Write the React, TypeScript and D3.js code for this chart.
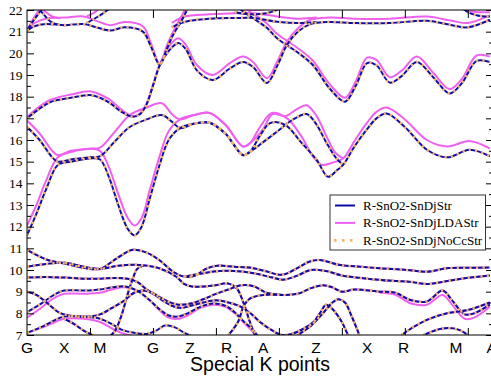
import React, { useEffect, useRef } from 'react';
import * as d3 from 'd3';

type Pt = [number, number];

// special k points along the path
const kLabels = ['G', 'X', 'M', 'G', 'Z', 'R', 'A', 'Z', 'X', 'R', 'M', 'A'];
const kPositions = [0, 0.59, 1.16, 2.0, 2.59, 3.17, 3.75, 4.59, 5.4, 5.98, 6.81, 7.38];

const seriesNames = ['R-SnO2-SnDjStr', 'R-SnO2-SnDjLDAStr', 'R-SnO2-SnDjNoCcStr'];

// ---- R-SnO2-SnDjStr (upper bands)
const strC1: Pt[] = [[0, 11.6], [0.15, 12.6], [0.3, 13.7], [0.49, 14.85], [0.7, 15.0], [1.0, 15.15], [1.16, 15.1], [1.3, 14.3], [1.45, 13.0], [1.6, 11.9], [1.71, 11.6], [1.82, 12.0], [1.95, 13.3], [2.1, 14.8], [2.25, 16.0], [2.43, 16.55], [2.65, 16.75], [2.9, 16.8], [3.15, 16.3], [3.43, 15.3], [3.54, 15.45], [3.7, 16.2], [3.86, 16.78], [4.1, 16.7], [4.35, 15.9], [4.6, 15.08], [4.78, 14.3], [4.92, 14.6], [5.02, 14.85], [5.2, 15.7], [5.4, 16.5], [5.55, 17.0], [5.71, 17.22], [6.0, 16.6], [6.35, 15.55], [6.67, 15.2], [7.03, 15.55], [7.35, 15.25]];
const strC2: Pt[] = [[0, 16.6], [0.2, 16.0], [0.4, 15.2], [0.49, 15.0], [0.7, 15.1], [1.0, 15.2], [1.16, 15.25], [1.4, 15.95], [1.63, 16.6], [1.9, 16.95], [2.14, 17.15], [2.3, 16.85], [2.43, 16.55], [2.65, 16.75], [2.9, 16.8], [3.15, 16.3], [3.43, 15.3], [3.54, 15.45], [3.75, 15.9], [4.0, 16.45], [4.2, 16.9], [4.44, 17.2], [4.6, 16.7], [4.75, 15.9], [4.9, 15.2], [5.02, 14.85]];
const strP: Pt[] = [[0, 17.0], [0.2, 17.45], [0.37, 17.75], [0.7, 17.95], [1.0, 18.08], [1.16, 17.95], [1.32, 17.7], [1.5, 17.3], [1.68, 17.07], [1.8, 17.2], [1.9, 17.65], [2.0, 18.5], [2.11, 19.46], [2.25, 20.1], [2.4, 20.48], [2.52, 20.2], [2.7, 19.2], [2.95, 18.77], [3.22, 19.3], [3.43, 19.6], [3.59, 19.37], [3.81, 18.63], [3.97, 19.4], [4.13, 20.4], [4.3, 21.0], [4.5, 21.35], [4.8, 21.45], [5.2, 21.4], [5.76, 21.4], [6.35, 21.5], [6.75, 21.3], [7.0, 21.2], [7.35, 21.55]];
const strQ: Pt[] = [[0, 21.05], [0.12, 21.25], [0.3, 21.35], [0.6, 21.3], [0.9, 21.35], [1.1, 21.2], [1.32, 21.05], [1.55, 21.2], [1.84, 21.0], [1.97, 20.3], [2.11, 19.46], [2.22, 20.2], [2.32, 20.85], [2.46, 21.54], [2.54, 22.0], [2.6, 22.4]];
const strR: Pt[] = [[3.27, 22.3], [3.45, 21.9], [3.6, 21.6], [3.8, 21.2], [3.97, 20.7], [4.29, 20.06], [4.54, 19.46], [4.8, 18.4], [5.05, 17.77], [5.22, 18.5], [5.4, 19.55], [5.55, 19.45], [5.76, 18.65], [5.95, 18.95], [6.19, 19.6], [6.45, 18.9], [6.71, 18.15], [6.9, 18.6], [7.14, 19.65], [7.35, 19.6]];
const strS: Pt[] = [[2.3, 21.2], [2.5, 21.45], [2.9, 21.6], [3.3, 21.63], [3.6, 21.63], [3.97, 21.46], [4.3, 21.4], [4.6, 21.45]];
const strW: Pt[] = [[0, 21.05], [0.1, 21.5], [0.2, 21.9], [0.28, 22.3]];
const strW2: Pt[] = [[0.12, 22.3], [0.25, 21.85], [0.38, 21.45], [0.5, 21.32]];
const strQ2: Pt[] = [[0.95, 21.4], [1.13, 21.7], [1.3, 22.05], [1.38, 22.3]];
const strTop: Pt[] = [[6.85, 22.3], [7.0, 21.9], [7.15, 21.75], [7.35, 21.7]];
const strTop2: Pt[] = [[3.3, 21.9], [3.55, 21.8], [3.8, 21.85], [4.0, 22.05], [4.1, 22.3]];

// ---- R-SnO2-SnDjStr (lower bands)
const strL1: Pt[] = [[0, 10.93], [0.33, 10.46], [0.63, 10.28], [0.9, 10.1], [1.16, 10.05], [1.43, 10.55], [1.68, 10.93], [1.9, 10.8], [2.1, 10.46], [2.32, 9.92], [2.5, 9.69], [2.65, 9.72], [2.86, 10.08], [3.02, 10.2], [3.29, 10.15], [3.56, 10.1], [3.78, 9.95], [4.06, 9.78], [4.3, 10.1], [4.49, 10.39], [4.65, 10.46], [4.97, 10.23], [5.3, 10.15], [5.6, 10.08], [6.03, 10.0], [6.35, 9.92], [6.67, 10.08], [7.0, 10.1], [7.35, 10.12]];
const strL2: Pt[] = [[0, 10.15], [0.3, 10.28], [0.6, 10.33], [0.9, 10.15], [1.16, 10.05], [1.45, 10.2], [1.79, 10.23], [2.1, 10.08], [2.37, 9.69], [2.5, 9.35], [2.64, 9.23], [2.85, 9.25], [3.02, 9.31], [3.17, 9.39], [3.33, 9.16], [3.43, 8.54], [3.54, 7.6], [3.62, 7.0], [3.7, 6.6]];
const strL2b: Pt[] = [[2.5, 9.69], [2.8, 9.85], [3.05, 9.95], [3.3, 9.95], [3.6, 9.85], [3.9, 9.65], [4.06, 9.55], [4.3, 9.75], [4.5, 10.0], [4.75, 9.95], [5.0, 9.75], [5.4, 9.6], [5.8, 9.5], [6.1, 9.45], [6.35, 9.35], [6.6, 9.45], [6.9, 9.6], [7.35, 9.75]];
const strL3: Pt[] = [[0, 9.65], [0.3, 9.68], [0.6, 9.65], [0.9, 9.6], [1.16, 9.6], [1.4, 9.63], [1.6, 9.6], [1.75, 9.45], [1.9, 9.1], [2.05, 8.85], [2.2, 8.6], [2.4, 8.4], [2.6, 8.45], [2.8, 8.65], [3.0, 8.9], [3.2, 9.1], [3.4, 9.3], [3.6, 9.25], [3.8, 8.95], [4.06, 8.85], [4.3, 8.9], [4.5, 9.15], [4.7, 9.3], [4.85, 9.2], [5.0, 9.0], [5.2, 9.1], [5.6, 9.0], [5.85, 8.95], [6.1, 8.6], [6.35, 8.55], [6.6, 9.05], [6.75, 8.6], [6.95, 7.95], [7.1, 8.0], [7.35, 8.4]];
const strL4: Pt[] = [[0, 9.0], [0.15, 8.85], [0.35, 8.4], [0.5, 8.05], [0.59, 7.95], [0.8, 7.85], [1.0, 7.85], [1.16, 7.95], [1.35, 8.25], [1.55, 8.6], [1.7, 8.95], [1.85, 9.05], [2.0, 8.9], [2.15, 8.6], [2.3, 8.35], [2.45, 8.25], [2.6, 8.35], [2.8, 8.5], [3.0, 8.6], [3.2, 8.5], [3.4, 8.3], [3.55, 8.0], [3.7, 7.6], [3.9, 7.2], [4.05, 7.0], [4.2, 7.05], [4.4, 7.3], [4.55, 7.6], [4.65, 8.0], [4.75, 8.4], [4.85, 8.2], [5.0, 7.6], [5.1, 7.0], [5.2, 6.6]];
const strL5: Pt[] = [[0, 8.05], [0.2, 8.4], [0.4, 8.8], [0.59, 9.05], [0.9, 9.05], [1.16, 9.1], [1.35, 9.2], [1.55, 9.25], [1.75, 9.05], [1.95, 8.6], [2.1, 8.2], [2.25, 7.9], [2.4, 7.85], [2.55, 8.0], [2.75, 8.3], [2.95, 8.45], [3.15, 8.35], [3.3, 8.05], [3.45, 7.6], [3.6, 7.2], [3.7, 6.8]];
const strL6: Pt[] = [[0, 7.1], [0.25, 7.4], [0.45, 7.7], [0.59, 7.85], [0.9, 7.85], [1.16, 7.75], [1.35, 7.5], [1.5, 7.25], [1.7, 7.1], [1.9, 7.05], [2.05, 7.2], [2.2, 7.45], [2.35, 7.35], [2.5, 7.1], [2.65, 6.9]];
const strL7: Pt[] = [[0.59, 7.75], [0.75, 7.5], [0.9, 7.2], [1.0, 7.05], [1.1, 6.9]];
const strL8: Pt[] = [[1.3, 6.9], [1.4, 7.2], [1.5, 7.9], [1.6, 8.9], [1.68, 9.6], [1.75, 10.05], [1.85, 10.2]];
const strL9: Pt[] = [[3.2, 7.0], [3.35, 7.6], [3.45, 8.4], [3.55, 8.7], [3.75, 8.85], [4.06, 8.85]];
const strL10: Pt[] = [[4.3, 7.0], [4.5, 7.4], [4.7, 8.0], [4.85, 8.5], [4.95, 8.65], [5.05, 8.5], [5.15, 7.9], [5.25, 7.2], [5.3, 6.8]];
const strL11: Pt[] = [[5.95, 7.0], [6.1, 7.3], [6.35, 7.7], [6.67, 8.0], [7.0, 8.15], [7.35, 8.5]];
const strL12: Pt[] = [[6.3, 7.0], [6.6, 7.3], [6.85, 7.25], [7.0, 7.0]];

// ---- R-SnO2-SnDjLDAStr (where it departs from Str)
const ldaC1: Pt[] = [[0, 12.05], [0.15, 13.0], [0.3, 14.1], [0.49, 15.2], [0.7, 15.45], [1.0, 15.6], [1.16, 15.5], [1.3, 14.75], [1.45, 13.5], [1.6, 12.4], [1.71, 12.05], [1.82, 12.4], [1.95, 13.7], [2.1, 15.2], [2.25, 16.4], [2.43, 16.95], [2.65, 17.15], [2.9, 17.25], [3.15, 16.7], [3.43, 15.7], [3.54, 15.85], [3.7, 16.6], [3.89, 17.25], [4.13, 17.0], [4.35, 16.2], [4.55, 15.2], [4.68, 14.85], [4.85, 14.95], [5.02, 15.15], [5.2, 15.95], [5.4, 16.8], [5.55, 17.3], [5.71, 17.5], [6.0, 16.95], [6.35, 16.0], [6.67, 15.7], [7.03, 15.95], [7.35, 15.6]];
const ldaC2: Pt[] = [[0, 16.9], [0.2, 16.3], [0.4, 15.5], [0.49, 15.3], [0.7, 15.5], [1.0, 15.6], [1.16, 15.65], [1.4, 16.4], [1.63, 17.15], [1.9, 17.5], [2.14, 17.7], [2.3, 17.2], [2.43, 16.95], [2.65, 17.15], [2.9, 17.25], [3.15, 16.7], [3.43, 15.7], [3.54, 15.85], [3.75, 16.5], [3.9, 17.2], [4.1, 17.1], [4.3, 17.45], [4.44, 17.6], [4.6, 17.1], [4.75, 16.2], [4.9, 15.4], [5.02, 15.15]];
const ldaP: Pt[] = [[0, 17.05], [0.2, 17.55], [0.37, 17.85], [0.7, 18.1], [1.0, 18.25], [1.16, 18.1], [1.32, 17.85], [1.5, 17.4], [1.68, 17.1], [1.8, 17.25], [1.9, 17.7], [2.0, 18.55], [2.11, 19.5], [2.25, 20.3], [2.4, 20.7], [2.52, 20.4], [2.7, 19.45], [2.95, 19.0], [3.22, 19.55], [3.43, 19.85], [3.59, 19.6], [3.81, 18.85], [3.97, 19.6], [4.13, 20.55], [4.3, 21.15], [4.5, 21.55], [4.8, 21.65], [5.2, 21.6], [5.76, 21.6], [6.35, 21.7], [6.75, 21.5], [7.0, 21.4], [7.35, 21.75]];
const ldaQ: Pt[] = [[0, 21.05], [0.12, 21.4], [0.3, 21.6], [0.6, 21.65], [0.9, 21.7], [1.1, 21.5], [1.32, 21.3], [1.55, 21.45], [1.84, 21.25], [1.97, 20.45], [2.11, 19.5], [2.22, 20.35], [2.32, 21.0], [2.46, 21.75], [2.54, 22.2], [2.6, 22.5]];
const ldaR: Pt[] = [[3.27, 22.5], [3.45, 22.1], [3.6, 21.8], [3.8, 21.4], [3.97, 20.9], [4.29, 20.26], [4.54, 19.66], [4.8, 18.6], [5.05, 17.95], [5.22, 18.7], [5.4, 19.8], [5.55, 19.7], [5.76, 18.9], [5.95, 19.2], [6.19, 19.85], [6.45, 19.1], [6.71, 18.35], [6.9, 18.8], [7.14, 19.9], [7.35, 19.85]];
const ldaS: Pt[] = [[2.3, 21.4], [2.5, 21.7], [2.9, 21.8], [3.3, 21.85], [3.6, 21.85], [3.97, 21.7], [4.3, 21.6], [4.6, 21.65]];
const ldaW: Pt[] = [[0, 21.05], [0.1, 21.6], [0.2, 22.05], [0.26, 22.4]];
const ldaW2: Pt[] = [[0.15, 22.3], [0.28, 21.95], [0.4, 21.7], [0.52, 21.62]];
const ldaQ2: Pt[] = [[0.95, 21.7], [1.1, 21.95], [1.22, 22.3]];
const ldaTop: Pt[] = [[6.8, 22.3], [6.95, 22.0], [7.15, 21.9], [7.35, 21.9]];
const ldaTop2: Pt[] = [[3.3, 22.1], [3.55, 22.0], [3.8, 22.05], [3.95, 22.3]];
const ldaL5: Pt[] = [[0, 7.8], [0.2, 8.2], [0.4, 8.65], [0.59, 8.9], [0.9, 8.9], [1.16, 8.95], [1.35, 9.1], [1.55, 9.2], [1.75, 9.05], [1.95, 8.6], [2.1, 8.15], [2.25, 7.8], [2.4, 7.75], [2.55, 7.9], [2.75, 8.25], [2.95, 8.4], [3.15, 8.3], [3.3, 8.0], [3.45, 7.55], [3.6, 7.1], [3.7, 6.7]];
const ldaL6: Pt[] = [[0, 7.1], [0.25, 7.35], [0.45, 7.6], [0.59, 7.75], [0.9, 7.75], [1.16, 7.6], [1.35, 7.3], [1.5, 7.1], [1.7, 6.95], [1.9, 6.9]];
const ldaL3: Pt[] = [[5.6, 8.95], [5.85, 8.85], [6.1, 8.45], [6.35, 8.4], [6.6, 8.85], [6.75, 8.4], [6.95, 7.75], [7.1, 7.8], [7.35, 8.3]];

const strBands: Pt[][] = [strC1, strC2, strP, strQ, strR, strS, strW, strW2, strQ2, strTop, strTop2,
  strL1, strL2, strL2b, strL3, strL4, strL5, strL6, strL7, strL8, strL9, strL10, strL11, strL12];
const ldaBands: Pt[][] = [ldaC1, ldaC2, ldaP, ldaQ, ldaR, ldaS, ldaW, ldaW2, ldaQ2, ldaTop, ldaTop2,
  strL1, strL2, strL2b, strL3, ldaL3, strL4, ldaL5, ldaL6, strL7, strL8, strL9, strL10, strL11, strL12];
// NoCc lies on top of Str everywhere in the figure
const noCcBands: Pt[][] = strBands;

export default function App() {
  const ref = useRef<SVGSVGElement>(null);

  useEffect(() => {
    const width = 491;
    const height = 379;
    const margin = { top: 10, right: -2, bottom: 44, left: 27 };
    const w = width - margin.left - margin.right;
    const h = height - margin.top - margin.bottom;

    const svg = d3.select(ref.current);
    svg.selectAll('*').remove();

    const x = d3.scaleLinear().domain([0, 7.4]).range([0, w]);
    const y = d3.scaleLinear().domain([7, 22]).range([h, 0]);

    svg.append('defs').append('clipPath').attr('id', 'plot-clip')
      .append('rect').attr('width', w).attr('height', h);

    const g = svg.append('g').attr('transform', `translate(${margin.left},${margin.top})`);

    const line = d3.line<Pt>()
      .x(d => x(d[0]))
      .y(d => y(d[1]))
      .curve(d3.curveCatmullRom.alpha(0.5));

    const plot = g.append('g').attr('clip-path', 'url(#plot-clip)');

    const colors = ['#0c0caa', '#f060f0', '#f5b46e'];

    plot.append('g').selectAll('path').data(ldaBands).enter().append('path')
      .attr('d', line).attr('fill', 'none').attr('stroke', colors[1]).attr('stroke-width', 2);
    plot.append('g').selectAll('path').data(strBands).enter().append('path')
      .attr('d', line).attr('fill', 'none').attr('stroke', colors[0]).attr('stroke-width', 2);
    plot.append('g').selectAll('path').data(noCcBands).enter().append('path')
      .attr('d', line).attr('fill', 'none').attr('stroke', colors[2]).attr('stroke-width', 2.6)
      .attr('stroke-dasharray', '2.2 4.2');

    // axes (ticks point inward)
    const yMajor = d3.range(7, 23, 1);
    const yMinor = d3.range(7.5, 22, 1);
    const xMajor = d3.range(1, 8, 1);

    const left = g.append('g').call(
      d3.axisLeft(y).tickValues(yMajor).tickSizeInner(-7).tickSizeOuter(0).tickPadding(4.5)
    );
    left.select('.domain').remove();
    left.selectAll('text').attr('font-family', '"Liberation Serif", "Times New Roman", serif')
      .attr('font-size', 13.5).attr('fill', '#000');

    g.append('g').call(d3.axisLeft(y).tickValues(yMinor).tickSizeInner(-4).tickSizeOuter(0).tickFormat(() => ''))
      .select('.domain').remove();
    g.append('g').attr('transform', `translate(${w},0)`)
      .call(d3.axisRight(y).tickValues(yMajor).tickSizeInner(-7).tickSizeOuter(0).tickFormat(() => ''))
      .select('.domain').remove();
    g.append('g').attr('transform', `translate(${w},0)`)
      .call(d3.axisRight(y).tickValues(yMinor).tickSizeInner(-4).tickSizeOuter(0).tickFormat(() => ''))
      .select('.domain').remove();
    g.append('g').attr('transform', `translate(0,${h})`)
      .call(d3.axisBottom(x).tickValues(xMajor).tickSizeInner(-7).tickSizeOuter(0).tickFormat(() => ''))
      .select('.domain').remove();
    g.append('g')
      .call(d3.axisTop(x).tickValues(xMajor).tickSizeInner(-8).tickSizeOuter(0).tickFormat(() => ''))
      .select('.domain').remove();

    g.append('rect').attr('width', w).attr('height', h)
      .attr('fill', 'none').attr('stroke', '#000').attr('stroke-width', 1);

    // special k point labels
    g.append('g').selectAll('text').data(kLabels).enter().append('text')
      .attr('x', (d, i) => x(kPositions[i]))
      .attr('y', h + 18)
      .attr('text-anchor', 'middle')
      .attr('font-family', '"Liberation Sans", Arial, sans-serif')
      .attr('font-size', 15.5)
      .text(d => d);

    g.append('text')
      .attr('x', 233)
      .attr('y', h + 36)
      .attr('text-anchor', 'middle')
      .attr('font-family', '"Liberation Sans", Arial, sans-serif')
      .attr('font-size', 19.5)
      .text('Special K points');

    // legend
    const lg = svg.append('g').attr('transform', 'translate(330,195)');
    lg.append('rect').attr('width', 155.5).attr('height', 55)
      .attr('fill', '#fff').attr('stroke', '#333').attr('stroke-width', 1);
    seriesNames.forEach((name, i) => {
      const ly = 10.5 + i * 17.4;
      const seg = lg.append('line').attr('x1', 5).attr('x2', 25).attr('y1', ly).attr('y2', ly)
        .attr('stroke', colors[i]).attr('stroke-width', i === 2 ? 2.8 : 2);
      if (i === 2) seg.attr('stroke-dasharray', '2.5 5.5').attr('x1', 4);
      lg.append('text').attr('x', 33).attr('y', ly + 4.5)
        .attr('font-family', '"Liberation Serif", "Times New Roman", serif')
        .attr('font-size', 13).text(name);
    });
  }, []);

  return (
    <div>
      <svg ref={ref} width={491} height={379}
        style={{ position: 'absolute', left: 0, top: 0, background: '#fff' }} />
    </div>
  );
}
